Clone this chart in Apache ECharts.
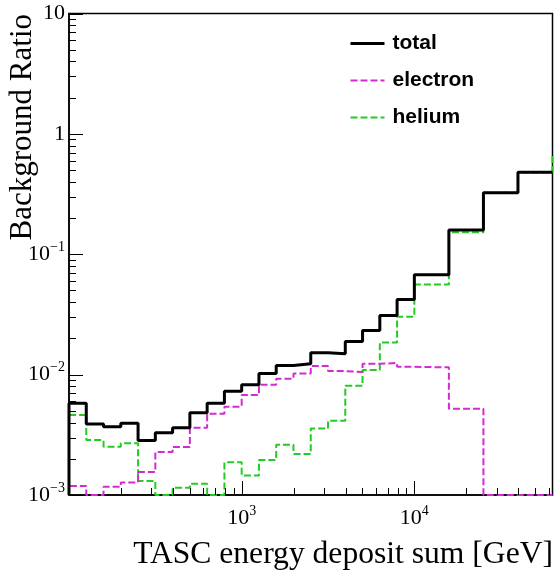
<!DOCTYPE html>
<html>
<head>
<meta charset="utf-8">
<script src="https://cdn.jsdelivr.net/npm/echarts@6/dist/echarts.min.js"></script>
<style>
  html, body { margin: 0; padding: 0; background: #fff; }
  #chart { width: 556px; height: 572px; }
</style>
</head>
<body>
<div id="chart"></div>
<script>
// Bin edges of the energy histogram (GeV): 0.1-decade bins up to 10 TeV, 0.2-decade bins above
const binEdges = [100, 125.89, 158.49, 199.53, 251.19, 316.23, 398.11, 501.19, 630.96, 794.33,
  1000, 1258.9, 1584.9, 1995.3, 2511.9, 3162.3, 3981.1, 5011.9, 6309.6, 7943.3,
  10000, 15849, 25119, 39811, 63096];

// Background ratio per bin
const totalRatio = [5.78e-3, 3.89e-3, 3.69e-3, 3.94e-3, 2.83e-3, 3.29e-3, 3.62e-3, 4.83e-3, 5.78e-3, 7.26e-3,
  8.24e-3, 1.02e-2, 1.19e-2, 1.23e-2, 1.52e-2, 1.49e-2, 1.88e-2, 2.33e-2, 3.10e-2, 4.21e-2,
  6.76e-2, 0.159, 0.325, 0.480];
const electronRatio = [1.19e-3, 1.0e-3, 1.17e-3, 1.27e-3, 1.55e-3, 2.28e-3, 2.50e-3, 3.62e-3, 4.73e-3, 5.42e-3,
  6.77e-3, 8.24e-3, 9.25e-3, 1.02e-2, 1.18e-2, 1.07e-2, 1.05e-2, 1.23e-2, 1.25e-2, 1.16e-2,
  1.15e-2, 5.21e-3, 1.0e-3, 1.0e-3];
const heliumRatio = [4.61e-3, 2.86e-3, 2.52e-3, 2.69e-3, 1.31e-3, 1.0e-3, 1.15e-3, 1.24e-3, 1.0e-3, 1.87e-3,
  1.45e-3, 1.95e-3, 2.62e-3, 2.19e-3, 3.56e-3, 4.14e-3, 8.09e-3, 1.09e-2, 1.85e-2, 3.03e-2,
  5.62e-2, 0.152, 0.324, 0.478];
// helium content of the first bin beyond the plotted range (only its rising edge shows)
const heliumPastRange = 0.66;

// Tick positions
const xMajorTicks = [1000, 10000];
const xMinorTicks = [200, 300, 400, 500, 600, 700, 800, 900,
  2000, 3000, 4000, 5000, 6000, 7000, 8000, 9000,
  20000, 30000, 40000, 50000, 60000];
const yMajorTicks = [0.001, 0.01, 0.1, 1, 10];
const yMinorTicks = [0.002, 0.003, 0.004, 0.005, 0.006, 0.007, 0.008, 0.009,
  0.02, 0.03, 0.04, 0.05, 0.06, 0.07, 0.08, 0.09,
  0.2, 0.3, 0.4, 0.5, 0.6, 0.7, 0.8, 0.9,
  2, 3, 4, 5, 6, 7, 8, 9];

const X_MIN = binEdges[0];
const X_MAX = binEdges[binEdges.length - 1];
const Y_MIN = 1e-3;
const Y_MAX = 10;

const SERIF = '"Liberation Serif", "Times New Roman", serif';
const SANS = '"Liberation Sans", Arial, sans-serif';

// Outline of a histogram: rise from the floor at the first edge, one step per bin
function histPoints(values, tailValue) {
  const pts = [[binEdges[0], Y_MIN]];
  values.forEach((v, i) => pts.push([binEdges[i], v]));
  pts.push([binEdges[values.length], tailValue !== undefined ? tailValue : values[values.length - 1]]);
  return pts;
}

// Inward tick marks drawn through the grid's coordinate system
function tickSeries(values, onX, len) {
  return {
    type: 'custom',
    silent: true,
    clip: false,
    z: 6,
    data: values.map(v => (onX ? [v, Y_MIN] : [X_MIN, v])),
    renderItem(params, api) {
      const p = api.coord([api.value(0), api.value(1)]);
      const shape = onX
        ? { x1: Math.round(p[0]) + 0.5, y1: p[1], x2: Math.round(p[0]) + 0.5, y2: p[1] - len }
        : { x1: p[0], y1: Math.round(p[1]) + 0.5, x2: p[0] + len, y2: Math.round(p[1]) + 0.5 };
      return { type: 'line', shape, style: { stroke: '#000', lineWidth: 1 } };
    }
  };
}

function powerLabel(v) {
  const e = Math.round(Math.log10(v));
  if (Math.abs(Math.log10(v) - e) > 1e-6) return '';
  if (e === 0) return '{b|1}';
  if (e === 1) return '{b|10}';
  return '{b|10}{s|' + (e < 0 ? '\u2212' + (-e) : e) + '}';
}

const labelRich = {
  b: { fontFamily: SERIF, fontSize: 22, color: '#000' },
  s: { fontFamily: SERIF, fontSize: 14, color: '#000', padding: [0, 0, 14, 0] }
};

const chart = echarts.init(document.getElementById('chart'), null, { renderer: 'canvas' });

chart.setOption({
  animation: false,
  backgroundColor: '#fff',
  grid: {
    left: 69, top: 13.5, right: 3.5, bottom: 77,
    show: true, borderColor: '#000', borderWidth: 1.5, backgroundColor: 'transparent'
  },
  legend: {
    data: ['total', 'electron', 'helium'],
    orient: 'vertical',
    left: 344, top: 28,
    itemWidth: 34, itemHeight: 14, itemGap: 16,
    itemStyle: { opacity: 0 },
    lineStyle: { width: 'inherit' },
    textStyle: { fontFamily: SANS, fontWeight: 'bold', fontSize: 21, color: '#000', padding: [0, 0, 0, 3] }
  },
  xAxis: {
    type: 'log', logBase: 10, min: X_MIN, max: X_MAX,
    axisLine: { show: true, lineStyle: { color: '#000', width: 1.5 } },
    axisTick: { show: false },
    splitLine: { show: false },
    axisLabel: {
      margin: 9,
      formatter: v => (v <= X_MIN * 1.001 ? '' : powerLabel(v)),
      rich: labelRich
    }
  },
  yAxis: {
    type: 'log', logBase: 10, min: Y_MIN, max: Y_MAX,
    axisLine: { show: true, lineStyle: { color: '#000', width: 1.5 } },
    axisTick: { show: false },
    splitLine: { show: false },
    axisLabel: {
      margin: 4,
      formatter: v => powerLabel(v),
      rich: labelRich
    }
  },
  graphic: [
    {
      type: 'text', x: 553, y: 555,
      style: { text: 'TASC energy deposit sum [GeV]', font: '31.6px ' + SERIF, fill: '#000', align: 'right', verticalAlign: 'middle' }
    },
    {
      type: 'text', x: 23, y: 14, rotation: Math.PI / 2,
      style: { text: 'Background Ratio', font: '31px ' + SERIF, fill: '#000', align: 'right', verticalAlign: 'middle' }
    }
  ],
  series: [
    {
      name: 'helium', type: 'line', step: 'end', symbol: 'none', clip: false, z: 3,
      data: histPoints(heliumRatio, heliumPastRange),
      lineStyle: { color: '#22cc22', width: 2, type: [7, 3] },
      itemStyle: { color: '#22cc22' }
    },
    {
      name: 'electron', type: 'line', step: 'end', symbol: 'none', clip: false, z: 3,
      data: histPoints(electronRatio),
      lineStyle: { color: '#d42ad4', width: 2, type: [7, 3] },
      itemStyle: { color: '#d42ad4' }
    },
    {
      name: 'total', type: 'line', step: 'end', symbol: 'none', clip: false, z: 4,
      data: histPoints(totalRatio),
      lineStyle: { color: '#000', width: 3 },
      itemStyle: { color: '#000' }
    },
    tickSeries(xMajorTicks, true, 14),
    tickSeries(xMinorTicks, true, 7),
    tickSeries(yMajorTicks, false, 14),
    tickSeries(yMinorTicks, false, 7)
  ]
});
</script>
</body>
</html>
